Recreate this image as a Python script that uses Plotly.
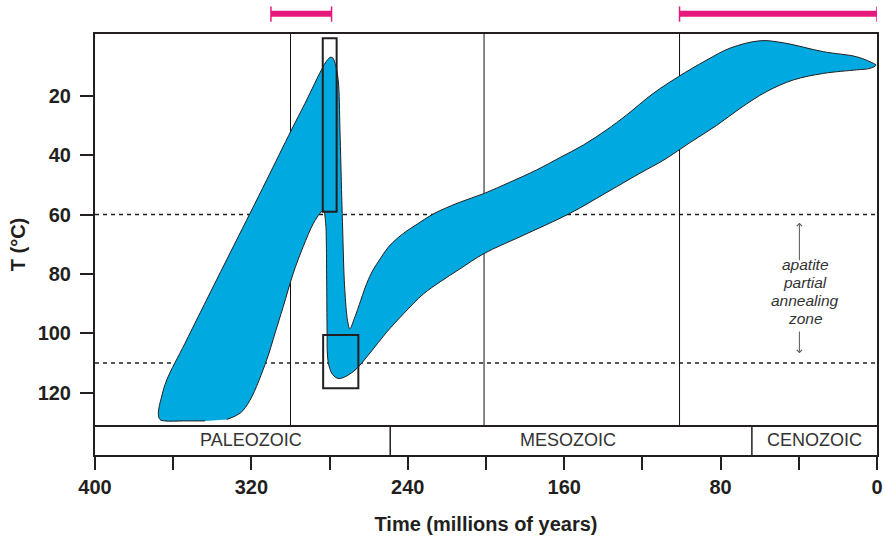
import plotly.graph_objects as go

# ---------------- data ----------------
# outline of the cooling-path envelope (time in Ma, temperature in degC), traced as one closed loop
path_time = [343.7, 354.8, 364.2, 366.8, 367.6, 366.0, 363.3, 354.0, 337.8, 320.7, 312.2, 299.5,
             292.6, 283.3, 281.3, 279.8, 278.5, 277.2, 275.6, 274.7, 273.8, 273.3, 272.5, 271.3,
             270.6, 269.7, 267.0, 261.0, 257.8, 254.2, 250.1, 245.5, 240.9, 235.8, 226.6, 214.3,
             200.9, 187.7, 174.1, 162.1, 150.2, 138.3, 128.1, 114.4, 101.6, 87.1, 75.2, 59.8,
             47.9, 27.4, 10.4, 1.9, 0.5,
             3.6, 10.4, 27.4, 42.8, 56.4, 70.1, 82.0, 95.7, 108.4, 121.2, 139.1, 157.0, 182.6,
             200.9, 213.3, 223.5, 232.1, 242.3, 250.8, 259.3, 267.9, 275.2, 278.3, 280.3, 281.1,
             281.3, 281.5, 281.7, 282.0, 283.2,
             284.9, 288.3, 293.5, 298.6, 303.7, 307.9, 312.2, 320.7, 325.8, 332.6]
path_temp = [129.5, 129.5, 129.5, 129.0, 126.9, 121.5, 115.7, 103.4, 82.0, 59.6, 48.4, 31.5,
             22.6, 10.2, 8.1, 7.1, 7.2, 9.1, 14.7, 31.5, 54.0, 65.2, 82.1, 93.3,
             96.5, 98.5, 94.4, 83.2, 78.7, 75.0, 71.1, 68.1, 65.7, 63.5, 59.7, 56.1,
             52.9, 49.1, 45.0, 40.8, 36.6, 31.5, 26.5, 19.2, 13.6, 8.0, 4.0, 1.5,
             2.2, 5.2, 6.9, 9.1, 9.7,
             10.8, 11.3, 12.5, 14.7, 18.6, 24.3, 30.0, 35.8, 41.4, 46.1, 52.9, 59.6, 67.5,
             73.1, 78.3, 82.7, 86.8, 93.5, 99.6, 106.6, 112.9, 115.2, 114.0, 111.0, 107.3,
             98.9, 82.1, 68.6, 63.0, 58.5,
             59.6, 63.0, 70.8, 79.8, 91.0, 99.9, 109.0, 122.5, 126.9, 129.0]

# constraint boxes: time from / to (Ma), temperature from / to (degC)
box_t0 = [283.5, 283.3]
box_t1 = [276.4, 265.3]
box_T0 = [0.7, 100.6]
box_T1 = [59.1, 118.5]

# pink time ranges above the plot (Ma)
range_start = [310, 101]
range_end = [279, 0]

# vertical reference lines (Ma)
ref_times = [300, 201, 101]

# apatite partial annealing zone limits (degC)
papz = [60, 110]

# eras
era_names = ["PALEOZOIC", "MESOZOIC", "CENOZOIC"]
era_bounds = [249, 64]
era_label_t = [320, 158, 32]

x_tickvals = [400, 360, 320, 280, 240, 200, 160, 120, 80, 40, 0]
x_ticktext = ["400", "", "320", "", "240", "", "160", "", "80", "", "0"]
y_tickvals = [20, 40, 60, 80, 100, 120]

papz_words = ["apatite", "partial", "annealing", "zone"]

# ---------------- figure ----------------
FONT = "Liberation Sans, Arial, Helvetica, sans-serif"
INK = "#231F20"
PINK = "#E8197D"
BLUE = "#00A9E0"

Y_TOP = -0.77
Y_BOT = 140.97
ERA_TOP = 131.2

fig = go.Figure()

fig.add_trace(go.Scatter(
    x=path_time, y=path_temp, mode="lines", fill="toself",
    fillcolor=BLUE, line=dict(color=INK, width=1, shape="spline", smoothing=1.0),
    hoverinfo="skip", showlegend=False))

shapes = []
for T in papz:
    shapes.append(dict(type="line", xref="x", yref="y", x0=400, x1=0, y0=T, y1=T,
                       line=dict(color=INK, width=1.4, dash="4px,4px"), layer="below"))
for t in ref_times:
    shapes.append(dict(type="line", xref="x", yref="y", x0=t, x1=t, y0=Y_TOP, y1=ERA_TOP,
                       line=dict(color="#111111", width=1), layer="below"))
shapes.append(dict(type="line", xref="x", yref="y", x0=400, x1=0, y0=ERA_TOP, y1=ERA_TOP,
                   line=dict(color=INK, width=2), layer="above"))
for t in era_bounds:
    shapes.append(dict(type="line", xref="x", yref="y", x0=t, x1=t, y0=ERA_TOP, y1=Y_BOT,
                       line=dict(color=INK, width=1.5), layer="above"))
for a, b, c, d in zip(box_t0, box_t1, box_T0, box_T1):
    shapes.append(dict(type="rect", xref="x", yref="y", x0=a, x1=b, y0=c, y1=d,
                       line=dict(color=INK, width=2), fillcolor="rgba(0,0,0,0)", layer="above"))
for a, b in zip(range_start, range_end):
    shapes.append(dict(type="line", xref="x", yref="paper", x0=a, x1=b, y0=1.0482, y1=1.0482,
                       line=dict(color=PINK, width=6)))
    for t in (a, b):
        shapes.append(dict(type="line", xref="x", yref="paper", x0=t, x1=t, y0=1.0292, y1=1.0655,
                           line=dict(color=PINK, width=1.5)))

annotations = []
for name, t in zip(era_names, era_label_t):
    annotations.append(dict(x=t, y=(ERA_TOP + Y_BOT) / 2, xref="x", yref="y", text=name,
                            showarrow=False, font=dict(family=FONT, size=18, color="#333333")))
for i, w in enumerate(papz_words):
    annotations.append(dict(x=36.8, y=77.0 + 5.98 * i, xref="x", yref="y", text=w,
                            showarrow=False,
                            font=dict(family=FONT, size=15.5, color="#333333", style="italic")))
annotations.append(dict(x=39.7, y=62.8, ax=39.7, ay=75.9, xref="x", yref="y", axref="x", ayref="y",
                        text="", showarrow=True, arrowhead=4, arrowsize=1, arrowwidth=1,
                        arrowcolor="#555555"))
annotations.append(dict(x=39.7, y=106.7, ax=39.7, ay=98.9, xref="x", yref="y", axref="x", ayref="y",
                        text="", showarrow=True, arrowhead=4, arrowsize=1, arrowwidth=1,
                        arrowcolor="#555555"))

fig.update_layout(
    width=885, height=536,
    margin=dict(l=95, r=8, t=34, b=81, autoexpand=False),
    paper_bgcolor="white", plot_bgcolor="white",
    shapes=shapes, annotations=annotations,
    font=dict(family=FONT, color=INK),
    xaxis=dict(range=[400, 0], tickvals=x_tickvals, ticktext=x_ticktext, automargin=False,
               ticks="outside", ticklen=13, tickwidth=1.5, tickcolor=INK,
               showline=True, linewidth=2, linecolor=INK, mirror=True,
               showgrid=False, zeroline=False,
               tickfont=dict(family=FONT, size=20, color=INK, weight="bold"),
               title=dict(text="Time (millions of years)", standoff=20,
                          font=dict(family=FONT, size=20, color=INK, weight="bold"))),
    yaxis=dict(range=[Y_BOT, Y_TOP], tickvals=y_tickvals, automargin=False,
               ticks="outside", ticklen=13, tickwidth=1.5, tickcolor=INK,
               ticklabelstandoff=5,
               showline=True, linewidth=2, linecolor=INK, mirror=True,
               showgrid=False, zeroline=False,
               tickfont=dict(family=FONT, size=20, color=INK, weight="bold"),
               title=dict(text="T (°C)", standoff=7,
                          font=dict(family=FONT, size=20, color=INK, weight="bold"))),
)

fig.write_html("out.html", config={"displayModeBar": False},
               post_script="document.body.style.margin='0px';")
